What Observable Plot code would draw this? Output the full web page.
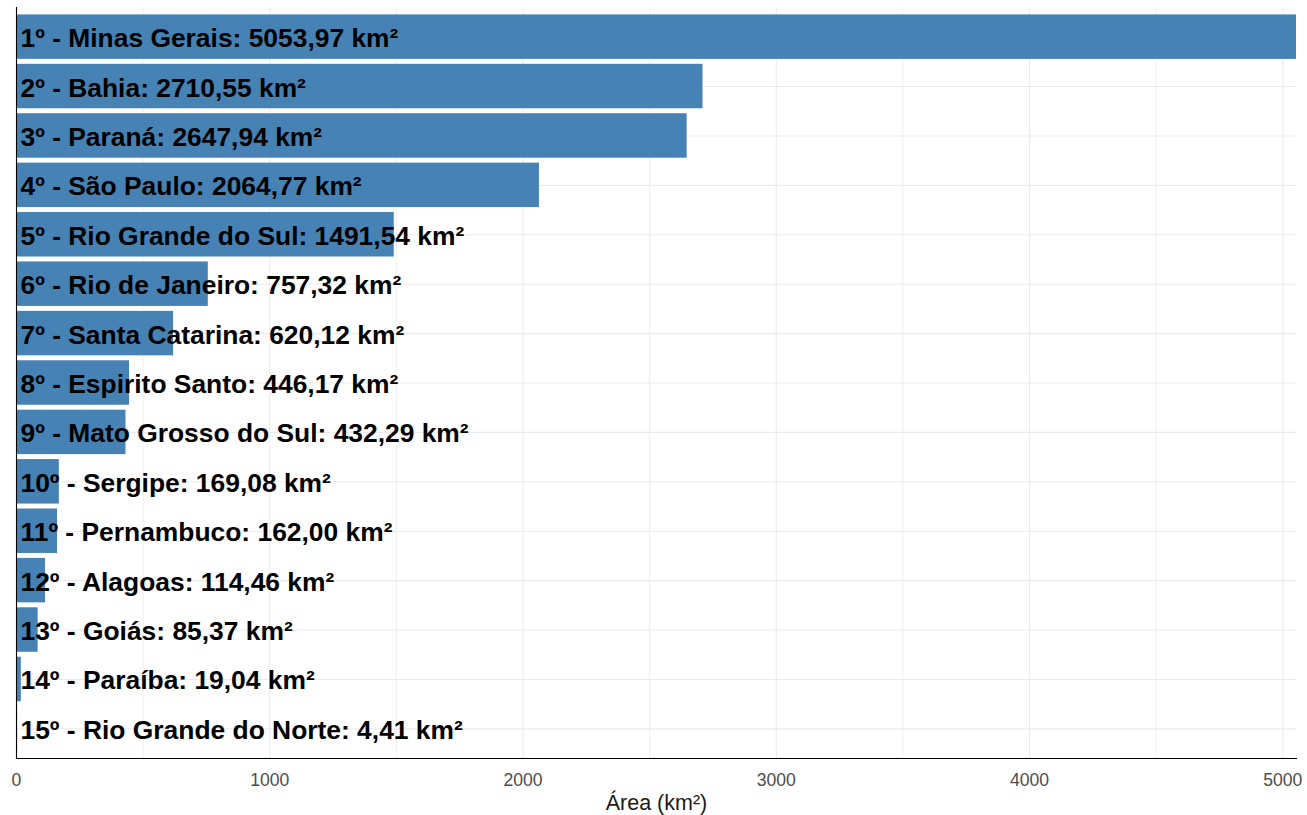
<!DOCTYPE html>
<html>
<head>
<meta charset="utf-8">
<script src="https://cdn.jsdelivr.net/npm/d3@7"></script>
<script src="https://cdn.jsdelivr.net/npm/@observablehq/plot@0.6"></script>
<style>
  html, body { margin: 0; padding: 0; background: #fff; }
  svg { display: block; }
</style>
</head>
<body>
<div id="chart"></div>
<script>
const states = ["Minas Gerais","Bahia","Paraná","São Paulo","Rio Grande do Sul","Rio de Janeiro","Santa Catarina","Espirito Santo","Mato Grosso do Sul","Sergipe","Pernambuco","Alagoas","Goiás","Paraíba","Rio Grande do Norte"];
const areas = [5053.97, 2710.55, 2647.94, 2064.77, 1491.54, 757.32, 620.12, 446.17, 432.29, 169.08, 162.00, 114.46, 85.37, 19.04, 4.41];
const majorTicks = [0, 1000, 2000, 3000, 4000, 5000];
const minorTicks = [500, 1500, 2500, 3500, 4500];
const xTitle = "Área (km²)";

const fmt = v => v.toFixed(2).replace(".", ",");
const data = states.map((s, i) => ({
  state: s,
  area: areas[i],
  label: `${i + 1}º - ${s}: ${fmt(areas[i])} km²`
}));

const chart = Plot.plot({
  width: 1307,
  height: 815,
  marginTop: 7,
  marginBottom: 57,
  marginLeft: 16,
  marginRight: 11,
  style: { fontFamily: "'Liberation Sans', Arial, sans-serif", background: "white" },
  x: { domain: [0, 5053.97], axis: null },
  y: { domain: states, axis: null, paddingInner: 0.1, paddingOuter: 0.15, round: false },
  marks: [
    Plot.gridX(minorTicks, { stroke: "#ebebeb", strokeOpacity: 1, strokeWidth: 0.8 }),
    Plot.gridX(majorTicks, { stroke: "#ebebeb", strokeOpacity: 1, strokeWidth: 1.1 }),
    Plot.gridY(states, { stroke: "#ebebeb", strokeOpacity: 1, strokeWidth: 1.1 }),
    Plot.barX(data, { x: "area", y: "state", fill: "#4682b4" }),
    Plot.axisX(majorTicks, { tickSize: 0, tickPadding: 15, fontSize: 17.6, fill: "#4d4d4d", label: null, tickFormat: d => String(d) }),
    Plot.text([xTitle], { frameAnchor: "bottom", dy: 45, fontSize: 21.5, fill: "#1a1a1a", lineAnchor: "middle" }),
    Plot.frame({ anchor: "bottom", stroke: "black", strokeWidth: 1.1 }),
    Plot.frame({ anchor: "left", stroke: "black", strokeWidth: 1.1 }),
    Plot.text(data, { y: "state", text: "label", frameAnchor: "left", textAnchor: "start", dx: 4, dy: 1.5, fontSize: 26.4, fontWeight: "bold", fill: "black" })
  ]
});
document.getElementById("chart").appendChild(chart);
</script>
</body>
</html>
